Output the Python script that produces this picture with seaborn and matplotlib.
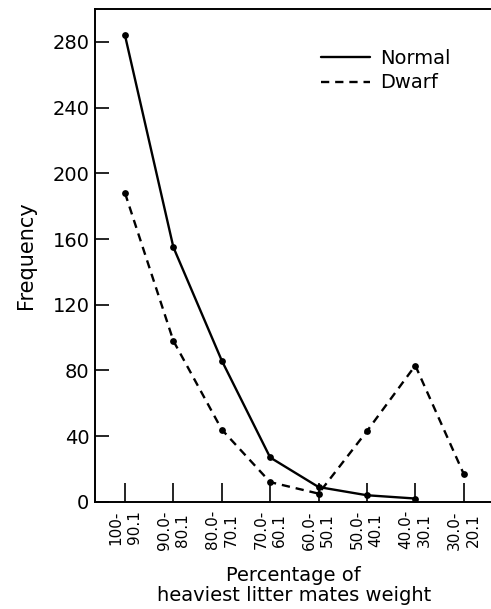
import matplotlib
matplotlib.use("Agg")
import numpy as np
import pandas as pd
import seaborn as sns
from matplotlib import pyplot as plt

# weight classes (percentage of heaviest litter mate's weight)
classes = ["100-\n90.1", "90.0-\n80.1", "80.0-\n70.1", "70.0-\n60.1",
           "60.0-\n50.1", "50.0-\n40.1", "40.0-\n30.1", "30.0-\n20.1"]
normal = [284, 155, 86, 27, 9, 4, 2, np.nan]
dwarf = [188, 98, 44, 12, 5, 43, 83, 17]

pos = np.arange(len(classes))
df = pd.concat([
    pd.DataFrame({"pos": pos, "freq": normal, "series": "Normal"}),
    pd.DataFrame({"pos": pos, "freq": dwarf, "series": "Dwarf"}),
]).dropna()

sns.set_style("ticks", rc={"text.color": "black", "axes.labelcolor": "black",
                           "xtick.color": "black", "ytick.color": "black",
                           "axes.edgecolor": "black"})
plt.rcParams["font.family"] = ["DejaVu Sans"]

fig = plt.figure(figsize=(4.91, 6.09), dpi=100)
ax = fig.add_axes([0.1935, 0.176, 0.81, 0.809])

sns.lineplot(data=df, x="pos", y="freq", style="series",
             dashes={"Normal": "", "Dwarf": (3.5, 2.5)},
             color="black", linewidth=1.7, ax=ax, legend=True)
sns.scatterplot(data=df, x="pos", y="freq", color="black", s=24,
                edgecolor="black", linewidth=0, ax=ax, legend=False, zorder=3)

handles, labels = ax.get_legend_handles_labels()
ax.legend(handles, labels, loc="upper right", bbox_to_anchor=(0.895, 0.92),
          frameon=False, fontsize=14, handlelength=2.5, handletextpad=0.55,
          labelspacing=0.3, borderaxespad=0, borderpad=0)

ax.set_xlim(-0.62, 7.6)
ax.set_ylim(0, 300)
ax.set_yticks(range(0, 281, 40))
ax.set_xticks(pos)
ax.set_xticklabels(classes, rotation=90, fontsize=11, linespacing=1.3)
ax.tick_params(axis="x", direction="in", length=14, width=1.2, pad=6)
ax.tick_params(axis="y", direction="in", length=10, width=1.2, labelsize=14, pad=4)
for side in ["left", "bottom", "top"]:
    ax.spines[side].set_linewidth(1.4)
ax.spines["right"].set_visible(False)

ax.set_ylabel("Frequency", fontsize=15, labelpad=12)
ax.set_xlabel("Percentage of\nheaviest litter mates weight", fontsize=14, labelpad=12,
              linespacing=1.05)

fig.savefig("out.png", dpi=100)
